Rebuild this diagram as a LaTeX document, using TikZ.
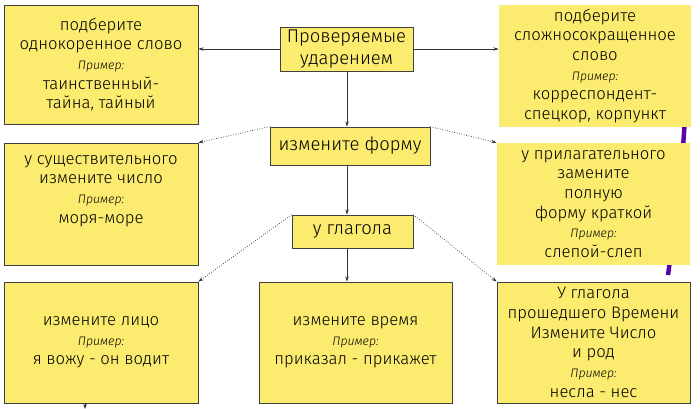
\documentclass[tikz,border=0pt]{standalone}
\usepackage{fontspec}
\setmainfont{Fira Sans Light}
\usetikzlibrary{arrows.meta}
\definecolor{cardfill}{HTML}{FBEB6E}
\tikzset{
  card/.style={fill=cardfill, draw=black!75, thin, align=center, inner sep=1pt, font=\fontsize{9.5}{11.2}\selectfont},
  big/.style={font=\fontsize{10.5}{12.5}\selectfont},
  link/.style={-{Stealth[length=3pt,width=2pt]}, black!80, thin},
  dlink/.style={link, densely dotted},
}
\newcommand{\ex}{{\itshape\scriptsize Пример:}}
\begin{document}
\begin{tikzpicture}[x=0.02cm,y=-0.02cm]
    \useasboundingbox (0,0) rectangle (700,409);
    % фиолетовая линия справа
    \draw[line width=2.5pt,violet!70!blue] (686,105) .. controls (680,190) .. (668,275);

    % Карточки
    \node[card, minimum width=194*0.02cm, minimum height=119*0.02cm] (odnokor) at (101,64.5)
        {подберите\\однокоренное слово\\\ex\\таинственный-\\тайна, тайный};
    \node[card, big, minimum width=133*0.02cm, minimum height=44*0.02cm] (udar) at (346.5,49)
        {Проверяемые\\ударением};
    \node[card, draw=none, minimum width=192*0.02cm, minimum height=122*0.02cm] (slozh) at (595,66)
        {подберите\\сложносокращенное\\слово\\\ex\\корреспондент-\\спецкор, корпункт};
    \node[card, big, minimum width=160*0.02cm, minimum height=38*0.02cm] (forma) at (350,146)
        {измените форму};
    \node[card, minimum width=194*0.02cm, minimum height=122*0.02cm] (sush) at (101,204) {};
    \node[card, draw=none, anchor=north] at ([yshift=-6pt]sush.north)
        {у существительного\\измените число\\\ex\\моря-море};
    \node[card, draw=none, minimum width=193*0.02cm, minimum height=122*0.02cm] (pril) at (593.5,204)
        {у прилагательного\\замените\\полную\\форму краткой\\\ex\\слепой-слеп};
    \node[card, big, minimum width=121*0.02cm, minimum height=33*0.02cm] (glag) at (352.5,231.5)
        {у глагола};
    \node[card, minimum width=194*0.02cm, minimum height=121*0.02cm] (lico) at (101,342.5)
        {измените лицо\\\ex\\я вожу - он водит};
    \node[card, minimum width=193*0.02cm, minimum height=121*0.02cm] (vrem) at (355.5,342.5)
        {измените время\\\ex\\приказал - прикажет};
    \node[card, minimum width=193*0.02cm, minimum height=121*0.02cm] (prosh) at (593.5,342.5)
        {У глагола\\прошедшего Времени\\Измените Число\\и род\\\ex\\несла - нес};

    % Стрелки
    \draw[link] (udar.west) -- (odnokor.east |- udar.west);
    \draw[link] (udar.east) -- (slozh.west |- udar.east);
    \draw[link] (udar.south -| 347,0) -- (forma.north -| 347,0);
    \draw[dlink] (forma.north west) -- (sush.north east);
    \draw[dlink] (forma.north east) -- (pril.north west);
    \draw[link] (forma.south -| 347,0) -- (glag.north -| 347,0);
    \draw[dlink] (glag.north west) -- (lico.north east);
    \draw[dlink] (glag.north east) -- (prosh.north west);
    \draw[link] (glag.south -| 347,0) -- (vrem.north -| 347,0);
    \coordinate (niz) at (85,409);
    \draw[link] (lico.south -| niz) -- (niz);
\end{tikzpicture}
\end{document}
